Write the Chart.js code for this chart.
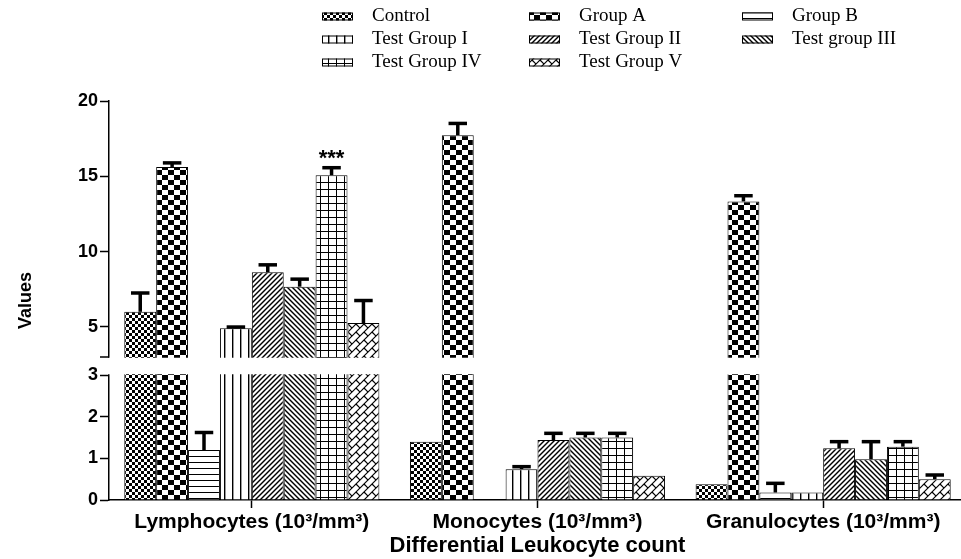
<!DOCTYPE html>
<html>
<head>
<meta charset="utf-8">
<script src="https://cdn.jsdelivr.net/npm/chart.js@4/dist/chart.umd.min.js"></script>
<style>
  html, body { margin: 0; padding: 0; background: #fff; overflow: hidden; }
  canvas { display: block; }
</style>
</head>
<body>
<canvas id="chart" width="966" height="559"></canvas>
<script>
// ---- data ----
const categories = ['Lymphocytes (10³/mm³)', 'Monocytes (10³/mm³)', 'Granulocytes (10³/mm³)'];
const seriesNames = ['Control', 'Group A', 'Group B', 'Test Group I', 'Test Group II', 'Test group III', 'Test Group IV', 'Test Group V'];

const control      = [6.00, 1.40, 0.38];
const groupA       = [15.62, 17.73, 13.33];
const groupB       = [1.20, 0, 0.18];
const testGroupI   = [4.91, 0.74, 0.18];
const testGroupII  = [8.62, 1.44, 1.24];
const testGroupIII = [7.67, 1.50, 0.98];
const testGroupIV  = [15.07, 1.50, 1.28];
const testGroupV   = [5.25, 0.58, 0.50];

// upper error (SEM) for each bar
const controlErr      = [1.25, 0, 0];
const groupAErr       = [0.27, 0.78, 0.38];
const groupBErr       = [0.42, 0, 0.22];
const testGroupIErr   = [0.08, 0.06, 0];
const testGroupIIErr  = [0.50, 0.16, 0.16];
const testGroupIIIErr = [0.50, 0.10, 0.42];
const testGroupIVErr  = [0.50, 0.10, 0.12];
const testGroupVErr   = [1.50, 0, 0.10];

// significance marks above bars
const testGroupIVMarks = ['***', '', ''];

const yTickValues = [0, 1, 2, 3, 5, 10, 15, 20];
const axisBreakValue = 3;
const axisMax = 20;

const seriesValues = [control, groupA, groupB, testGroupI, testGroupII, testGroupIII, testGroupIV, testGroupV];
const seriesErrors = [controlErr, groupAErr, groupBErr, testGroupIErr, testGroupIIErr, testGroupIIIErr, testGroupIVErr, testGroupVErr];
const seriesMarks = [null, null, null, null, null, null, testGroupIVMarks, null];

// ---- hatch fills ----
function makePattern(kind) {
  const c = document.createElement('canvas');
  const g = c.getContext('2d');
  const line = (x1, y1, x2, y2, w) => {
    g.beginPath(); g.moveTo(x1, y1); g.lineTo(x2, y2);
    g.lineWidth = w; g.strokeStyle = '#000'; g.stroke();
  };
  g.fillStyle = '#000';
  if (kind === 'checkerFine' || kind === 'checkerBold') {
    const a = kind === 'checkerFine' ? 3 : 6;
    const b = kind === 'checkerFine' ? 3 : 5;
    c.width = a * 2; c.height = b * 2;
    g.fillStyle = '#fff'; g.fillRect(0, 0, c.width, c.height);
    g.fillStyle = '#000';
    g.fillRect(0, 0, a, b); g.fillRect(a, b, a, b);
  } else if (kind === 'hLines') {
    c.width = 4; c.height = 6;
    g.fillStyle = '#fff'; g.fillRect(0, 0, 4, 6);
    g.fillStyle = '#000'; g.fillRect(0, 0, 4, 1);
  } else if (kind === 'vLines') {
    c.width = 8; c.height = 4;
    g.fillStyle = '#fff'; g.fillRect(0, 0, 8, 4);
    g.fillStyle = '#000'; g.fillRect(0, 0, 1.4, 4);
  } else if (kind === 'diagUp' || kind === 'diagDown') {
    const s = 5;
    c.width = s; c.height = s;
    g.fillStyle = '#fff'; g.fillRect(0, 0, s, s);
    if (kind === 'diagUp') {
      line(-1, s + 1, s + 1, -1, 1.4);
      line(-1, 1, 1, -1, 1.4);
      line(s - 1, s + 1, s + 1, s - 1, 1.4);
    } else {
      line(-1, -1, s + 1, s + 1, 1.4);
      line(-1, s - 1, 1, s + 1, 1.4);
      line(s - 1, -1, s + 1, 1, 1.4);
    }
  } else if (kind === 'grid') {
    c.width = 8; c.height = 7;
    g.fillStyle = '#fff'; g.fillRect(0, 0, 8, 7);
    g.fillStyle = '#000';
    g.fillRect(0, 0, 1, 7); g.fillRect(0, 0, 8, 1);
  } else if (kind === 'zigzag') {
    const s = 8;
    c.width = s; c.height = s;
    g.fillStyle = '#fff'; g.fillRect(0, 0, s, s);
    line(-1, s + 1, s + 1, -1, 1.2);
    line(-1, 1, 1, -1, 1.2);
    line(s - 1, s + 1, s + 1, s - 1, 1.2);
    line(s / 2, s / 2, s, s, 1.2);
  }
  return g.createPattern(c, 'repeat');
}

const fills = ['checkerFine', 'checkerBold', 'hLines', 'vLines', 'diagUp', 'diagDown', 'grid', 'zigzag'].map(makePattern);

// ---- y scale with a break between the low and high ranges ----
const lowerShare = 125 / 399; // part of the plot height below the break
const gapShare = 18 / 399;    // empty band at the break

class BrokenLinearScale extends Chart.LinearScale {
  buildTicks() {
    return yTickValues.map(v => ({ value: v }));
  }
  breakPixels() {
    const h = this.bottom - this.top;
    const lowerTop = this.bottom - h * lowerShare;
    const upperBottom = lowerTop - h * gapShare;
    return { lowerTop, upperBottom };
  }
  getPixelForValue(value) {
    const { lowerTop, upperBottom } = this.breakPixels();
    if (value <= axisBreakValue) {
      return this.bottom - (value - this.min) / (axisBreakValue - this.min) * (this.bottom - lowerTop);
    }
    return upperBottom - (value - axisBreakValue) / (this.max - axisBreakValue) * (upperBottom - this.top);
  }
  getValueForPixel(pixel) {
    const { lowerTop, upperBottom } = this.breakPixels();
    if (pixel >= lowerTop) {
      return this.min + (this.bottom - pixel) / (this.bottom - lowerTop) * (axisBreakValue - this.min);
    }
    if (pixel <= upperBottom) {
      return axisBreakValue + (upperBottom - pixel) / (upperBottom - this.top) * (this.max - axisBreakValue);
    }
    return axisBreakValue;
  }
}
BrokenLinearScale.id = 'brokenLinear';
BrokenLinearScale.defaults = Chart.LinearScale.defaults;
Chart.register(BrokenLinearScale);

// ---- plugins ----
const breakAndErrors = {
  id: 'breakAndErrors',
  afterDatasetsDraw(chart) {
    const { ctx, chartArea } = chart;
    const y = chart.scales.y;
    const { lowerTop, upperBottom } = y.breakPixels();
    ctx.save();
    // cut the bars and the axis line at the break
    ctx.fillStyle = '#fff';
    ctx.fillRect(chartArea.left - 2, upperBottom + 0.75, chartArea.right - chartArea.left + 2, lowerTop - upperBottom - 1.5);
    // end tick of the upper segment
    ctx.strokeStyle = '#000';
    ctx.lineWidth = 1.5;
    ctx.beginPath();
    ctx.moveTo(chartArea.left - 9, upperBottom);
    ctx.lineTo(chartArea.left, upperBottom);
    ctx.stroke();

    // error bars (upper half only) and significance marks
    chart.data.datasets.forEach((ds, i) => {
      const meta = chart.getDatasetMeta(i);
      meta.data.forEach((bar, j) => {
        const v = ds.data[j];
        const e = ds.errors ? ds.errors[j] : 0;
        const capY = y.getPixelForValue(v + e);
        if (e > 0) {
          const topY = y.getPixelForValue(v);
          ctx.lineWidth = 3.5;
          ctx.lineCap = 'butt';
          ctx.beginPath();
          ctx.moveTo(bar.x, topY);
          ctx.lineTo(bar.x, capY);
          ctx.stroke();
          const capW = bar.width * 0.58;
          ctx.beginPath();
          ctx.moveTo(bar.x - capW / 2, capY);
          ctx.lineTo(bar.x + capW / 2, capY);
          ctx.stroke();
        }
        if (ds.marks && ds.marks[j]) {
          ctx.fillStyle = '#000';
          ctx.font = 'bold 22px "Liberation Sans", Arial, sans-serif';
          ctx.textAlign = 'center';
          ctx.textBaseline = 'alphabetic';
          ctx.fillText(ds.marks[j], bar.x, capY - 3);
        }
      });
    });
    ctx.restore();
  }
};

const gridLegend = {
  id: 'gridLegend',
  afterDraw(chart) {
    const { ctx } = chart;
    const colX = [322, 529, 742];
    const firstRowY = 16.5, rowGap = 23;
    ctx.save();
    ctx.font = '19px "Liberation Serif", "Times New Roman", serif';
    ctx.textBaseline = 'middle';
    ctx.textAlign = 'left';
    chart.data.datasets.forEach((ds, k) => {
      const x = colX[k % 3];
      const yc = firstRowY + Math.floor(k / 3) * rowGap;
      ctx.fillStyle = ds.backgroundColor;
      ctx.fillRect(x, yc - 4, 31, 8);
      ctx.strokeStyle = '#000';
      ctx.lineWidth = 1;
      ctx.strokeRect(x + 0.5, yc - 3.5, 30, 7);
      ctx.fillStyle = '#000';
      ctx.fillText(ds.label, x + 50, yc);
    });
    ctx.restore();
  }
};

// ---- chart ----
const datasets = seriesNames.map((name, k) => ({
  label: name,
  data: seriesValues[k],
  errors: seriesErrors[k],
  marks: seriesMarks[k],
  backgroundColor: fills[k],
  borderColor: '#000',
  borderWidth: 1,
  categoryPercentage: 0.893,
  barPercentage: 1
}));

new Chart(document.getElementById('chart'), {
  type: 'bar',
  data: { labels: categories, datasets },
  options: {
    responsive: false,
    animation: false,
    events: [],
    layout: { padding: { top: 101, left: 0, right: 0, bottom: 0 } },
    plugins: { legend: { display: false }, tooltip: { enabled: false } },
    scales: {
      x: {
        grid: { display: true, drawOnChartArea: false, drawTicks: true, tickLength: 8, tickWidth: 1.5, tickColor: '#000', offset: false },
        border: { display: true, color: '#000', width: 1.5 },
        ticks: { color: '#000', font: { family: '"Liberation Sans", Arial, sans-serif', size: 21, weight: 'bold' }, padding: 2, maxRotation: 0, autoSkip: false },
        title: { display: true, text: 'Differential Leukocyte count', color: '#000', font: { family: '"Liberation Sans", Arial, sans-serif', size: 22, weight: 'bold' }, padding: { top: 0, bottom: 0 } },
        afterFit(scale) { scale.height = 59; }
      },
      y: {
        type: 'brokenLinear',
        min: 0,
        max: axisMax,
        grid: { display: true, drawOnChartArea: false, drawTicks: true, tickLength: 9, tickWidth: 1.5, tickColor: '#000' },
        border: { display: true, color: '#000', width: 1.5 },
        ticks: { color: '#000', font: { family: '"Liberation Sans", Arial, sans-serif', size: 18, weight: 'bold' }, padding: 2, autoSkip: false, callback: v => String(v) },
        title: { display: true, text: 'Values', color: '#000', font: { family: '"Liberation Sans", Arial, sans-serif', size: 18, weight: 'bold' }, padding: { top: 15, bottom: 0 } },
        afterFit(scale) { scale.width = 109; }
      }
    }
  },
  plugins: [breakAndErrors, gridLegend]
});
</script>
</body>
</html>
